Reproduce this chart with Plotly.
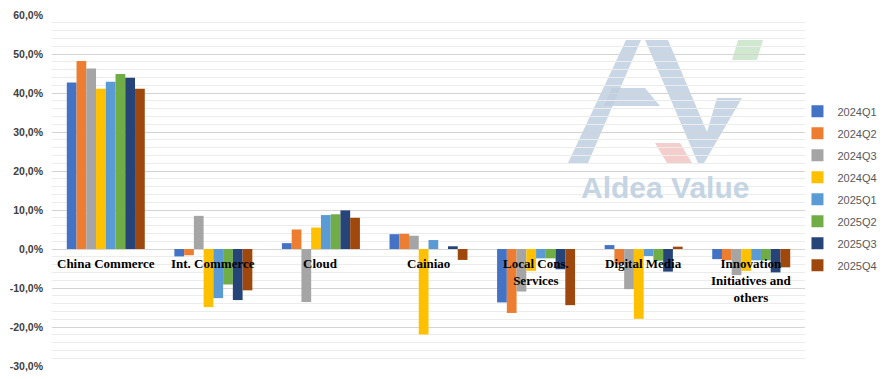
import plotly.graph_objects as go

categories = ["China Commerce", "Int. Commerce", "Cloud", "Cainiao",
              "Local Cons.<br>Services", "Digital Media",
              "Innovation<br>Initiatives and<br>others"]
series_names = ["2024Q1", "2024Q2", "2024Q3", "2024Q4",
                "2025Q1", "2025Q2", "2025Q3", "2025Q4"]
q1_2024 = [42.7, -1.9, 1.5, 3.8, -13.7, 1.0, -2.6]
q2_2024 = [48.2, -1.6, 5.0, 3.9, -16.4, -3.7, -2.9]
q3_2024 = [46.3, 8.5, -13.6, 3.4, -10.9, -10.3, -6.7]
q4_2024 = [41.1, -14.9, 5.5, -21.9, -5.6, -17.9, -5.6]
q1_2025 = [42.9, -12.6, 8.7, 2.3, -2.4, -1.8, -2.9]
q2_2025 = [44.9, -9.1, 8.9, 0.0, -2.4, -3.0, -2.9]
q3_2025 = [43.9, -13.1, 9.9, 0.7, -5.2, -5.8, -6.0]
q4_2025 = [41.1, -10.6, 8.0, -2.8, -14.4, 0.6, -4.7]
series_values = [q1_2024, q2_2024, q3_2024, q4_2024,
                 q1_2025, q2_2025, q3_2025, q4_2025]
colors = ["#4472C4", "#ED7D31", "#A5A5A5", "#FFC000",
          "#5B9BD5", "#70AD47", "#264478", "#9E480E"]
y_ticks = [-30, -20, -10, 0, 10, 20, 30, 40, 50, 60]
y_ticktext = [f"{v:.1f}%".replace(".", ",") for v in y_ticks]

W, H = 886, 379
ML, MR, MT, MB = 52, 81, 15, 13
PW, PH = W - ML - MR, H - MT - MB


def px(x, y):
    return (x - ML) / PW, (H - MB - y) / PH


def path(points):
    pts = [px(x, y) for x, y in points]
    return "M " + " L ".join(f"{a:.5f},{b:.5f}" for a, b in pts) + " Z"


fig = go.Figure()
for name, vals, col in zip(series_names, series_values, colors):
    fig.add_trace(go.Bar(name=name, x=categories, y=vals, marker_color=col,
                         marker_line_width=0, legendgroup=name))

# category labels at the zero line
annotations = []
for c in categories:
    annotations.append(dict(x=c, y=0, xref="x", yref="y", text=c, showarrow=False,
                            yanchor="top", yshift=-5,
                            font=dict(family="Liberation Serif", size=13, color="#000000",
                                      weight="bold"),
                            align="center"))

# watermark
wm_blue = "rgba(190,207,224,0.85)"
shapes = [
    dict(type="path", path=path([(568, 163), (588, 163), (641, 40), (626, 40)]),
         fillcolor=wm_blue, line_width=0, xref="paper", yref="paper", layer="below"),
    dict(type="path", path=path([(612, 88), (645, 88), (660, 106), (604, 106)]),
         fillcolor=wm_blue, line_width=0, xref="paper", yref="paper", layer="below"),
    dict(type="path", path=path([(645, 40), (668, 40), (707, 132), (717, 98), (742, 98),
                                 (704, 163), (698, 163)]),
         fillcolor=wm_blue, line_width=0, xref="paper", yref="paper", layer="below"),
    dict(type="path", path=path([(655, 143), (680, 143), (692, 163), (667, 163)]),
         fillcolor="rgba(242,196,196,0.85)", line_width=0, xref="paper", yref="paper", layer="below"),
    dict(type="path", path=path([(738, 40), (763, 40), (757, 60), (732, 60)]),
         fillcolor="rgba(200,228,200,0.85)", line_width=0, xref="paper", yref="paper", layer="below"),
]
wx, wy = px(665, 187)
annotations.append(dict(x=wx, y=wy, xref="paper", yref="paper", text="Aldea Value",
                        showarrow=False, xanchor="center", yanchor="middle",
                        font=dict(family="Liberation Sans", size=30, color="rgba(190,207,224,0.9)",
                                  weight="bold")))

fig.update_layout(
    width=W, height=H,
    margin=dict(l=ML, r=MR, t=MT, b=MB, autoexpand=False),
    paper_bgcolor="white", plot_bgcolor="white",
    barmode="group", bargap=0.275, bargroupgap=0,
    showlegend=True,
    legend=dict(x=0.99, y=0.767, xanchor="left", yanchor="top",
                font=dict(family="Liberation Sans", size=11, color="#595959"),
                tracegroupgap=3, itemwidth=30, bgcolor="rgba(0,0,0,0)"),
    annotations=annotations,
    shapes=shapes,
    xaxis=dict(showticklabels=False, showgrid=False, showline=False, ticks="",
               zeroline=False, automargin=False),
    yaxis=dict(range=[-30, 60], tickvals=y_ticks, ticktext=y_ticktext,
               showgrid=True, gridcolor="#d4d4d4", gridwidth=1,
               zeroline=True, zerolinecolor="#d4d4d4", zerolinewidth=1,
               minor=dict(dtick=2, showgrid=True, gridcolor="#ececec", gridwidth=1),
               tickfont=dict(family="Liberation Sans", size=10.5, color="#404040",
                             weight="bold"),
               ticklabelstandoff=8, showline=False, ticks="", automargin=False),
    font=dict(family="Liberation Sans"),
)

fig.write_html("out.html", config={"displayModeBar": False},
               post_script="document.body.style.margin='0';document.body.style.overflow='hidden';")
